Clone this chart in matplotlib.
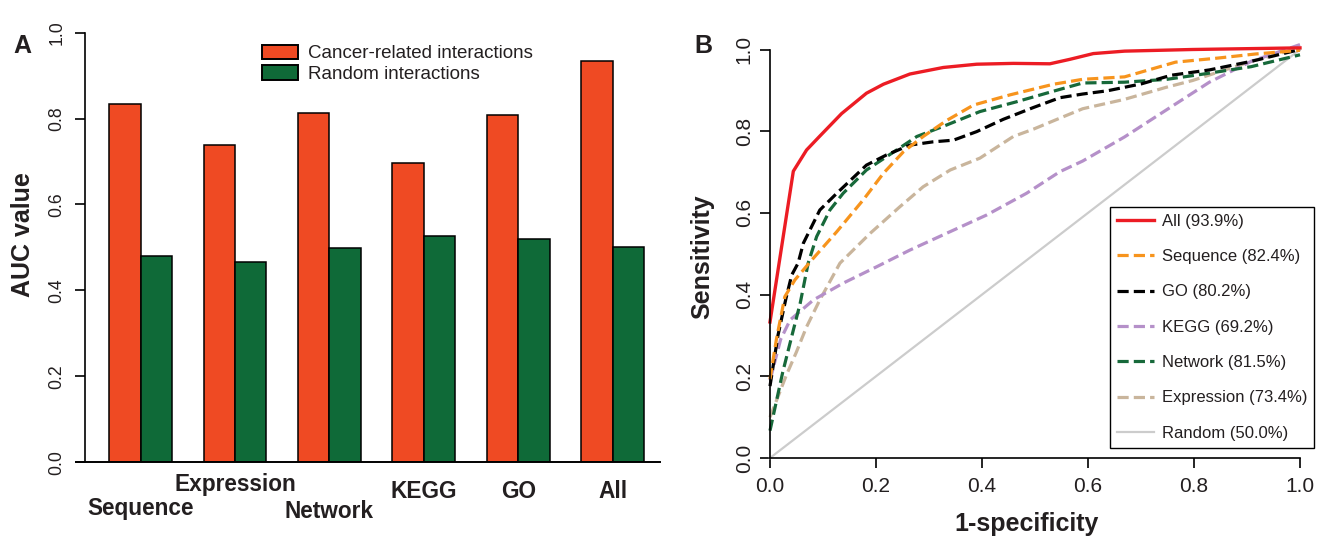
import numpy as np
import matplotlib
matplotlib.use("Agg")
from matplotlib import pyplot as plt
from matplotlib.patches import Patch
from matplotlib.ticker import FormatStrFormatter
from matplotlib.transforms import blended_transform_factory

plt.rcParams['font.family'] = ['Liberation Sans', 'DejaVu Sans']

INK = '#231f20'

# panel A data
categories = ['Sequence', 'Expression', 'Network', 'KEGG', 'GO', 'All']
cancer_auc = [0.833, 0.739, 0.813, 0.697, 0.809, 0.935]
random_auc = [0.480, 0.467, 0.499, 0.526, 0.519, 0.501]
bar_legend = ['Cancer-related interactions', 'Random interactions']

# panel B data (ROC curves)
all_x = [0, 0.044, 0.069, 0.094, 0.135, 0.182, 0.214, 0.264, 0.327, 0.39, 0.459, 0.528,
         0.566, 0.61, 0.669, 0.797, 1.0]
all_y = [0.333, 0.702, 0.754, 0.788, 0.843, 0.893, 0.915, 0.940, 0.956, 0.964, 0.966, 0.965,
         0.976, 0.99, 0.996, 1.0, 1.004]
seq_x = [0, 0.012, 0.028, 0.047, 0.079, 0.126, 0.176, 0.214, 0.252, 0.289, 0.333, 0.384,
         0.453, 0.535, 0.59, 0.669, 0.765, 0.845, 0.916, 1.0]
seq_y = [0.193, 0.29, 0.395, 0.436, 0.485, 0.554, 0.632, 0.697, 0.75, 0.787, 0.826, 0.864,
         0.889, 0.915, 0.927, 0.933, 0.969, 0.979, 0.989, 0.998]
go_x = [0, 0.015, 0.03, 0.041, 0.053, 0.063, 0.094, 0.126, 0.182, 0.22, 0.264, 0.308, 0.346,
        0.39, 0.44, 0.497, 0.547, 0.59, 0.637, 0.701, 0.757, 0.829, 0.908, 1.0]
go_y = [0.176, 0.3, 0.39, 0.448, 0.477, 0.526, 0.607, 0.648, 0.717, 0.742, 0.766, 0.774, 0.778,
        0.799, 0.829, 0.858, 0.882, 0.891, 0.899, 0.916, 0.937, 0.95, 0.971, 1.0]
kegg_x = [0, 0.02, 0.038, 0.082, 0.138, 0.201, 0.264, 0.333, 0.409, 0.484, 0.547, 0.59,
          0.669, 0.749, 0.829, 0.908, 1.0]
kegg_y = [0.19, 0.29, 0.338, 0.387, 0.428, 0.468, 0.509, 0.55, 0.595, 0.648, 0.701, 0.727,
          0.786, 0.853, 0.92, 0.971, 1.012]
net_x = [0, 0.024, 0.044, 0.057, 0.072, 0.088, 0.113, 0.138, 0.182, 0.239, 0.277, 0.333,
         0.396, 0.465, 0.535, 0.59, 0.669, 0.749, 0.813, 0.908, 1.0]
net_y = [0.067, 0.21, 0.313, 0.379, 0.477, 0.542, 0.607, 0.648, 0.705, 0.754, 0.787, 0.815,
         0.848, 0.872, 0.898, 0.918, 0.92, 0.927, 0.939, 0.958, 0.987]
expr_x = [0, 0.03, 0.05, 0.069, 0.094, 0.132, 0.189, 0.245, 0.289, 0.34, 0.396, 0.459, 0.497,
          0.547, 0.59, 0.669, 0.749, 0.797, 0.908, 1.0]
expr_y = [0.10, 0.2, 0.26, 0.321, 0.387, 0.477, 0.55, 0.615, 0.664, 0.705, 0.734, 0.787, 0.805,
          0.832, 0.855, 0.878, 0.908, 0.924, 0.971, 1.004]
rand_x = [0, 1]
rand_y = [0, 1]

W, H = 1326, 538
fig = plt.figure(figsize=(W / 100, H / 100), dpi=100)

# ---------- panel A ----------
axA = fig.add_axes([76 / W, (H - 462.3) / H, 584 / W, 429.7 / H])
pos = np.arange(len(categories)) * 3 + 1
axA.bar(pos, cancer_auc, width=1, align='edge', color='#EF4A23', edgecolor='black', lw=1.1)
axA.bar(pos + 1, random_auc, width=1, align='edge', color='#0F6A38', edgecolor='black', lw=1.1)
axA.set_xlim(-0.05, 18.5)
axA.set_ylim(0, 1)
for s in ['top', 'right']:
    axA.spines[s].set_visible(False)
axA.spines['left'].set_position(('data', 0.24))
axA.spines['left'].set_bounds(0, 1)
axA.spines['left'].set_linewidth(1.2)
axA.spines['bottom'].set_linewidth(1.4)
axA.set_xticks([])
axA.set_yticks(np.arange(0, 1.01, 0.2))
axA.yaxis.set_major_formatter(FormatStrFormatter('%.1f'))
axA.tick_params(axis='y', length=7.2, width=1.2, labelsize=12.7, pad=7, labelrotation=90,
                labelcolor=INK)
for t in axA.get_yticklabels():
    t.set_va('center')
axA.set_ylabel('AUC value', fontsize=18, fontweight='bold', color=INK)
axA.yaxis.set_label_coords(-0.0908, 0.529)
axA.yaxis.label.set_va('center')

# staggered category labels
label_rows = [508, 485, 511, 492, 492, 492]
tr = blended_transform_factory(axA.transData, fig.transFigure)
for c, p, r in zip(categories, pos, label_rows):
    axA.text(p + 1, 1 - r / H, c, transform=tr, ha='center', va='center',
             fontsize=16.3, fontweight='bold', color=INK)

hA = [Patch(facecolor='#EF4A23', edgecolor='black', lw=1.4),
      Patch(facecolor='#0F6A38', edgecolor='black', lw=1.4)]
axA.legend(hA, bar_legend, loc='upper left', bbox_to_anchor=(0.3185, 0.972), borderaxespad=0,
           frameon=False, fontsize=13.5, handlelength=1.9, handleheight=0.8,
           handletextpad=0.55, labelspacing=0.16, borderpad=0, labelcolor=INK)

# ---------- panel B ----------
axB = fig.add_axes([770 / W, (H - 458) / H, 530 / W, 408.5 / H])
dash = (0, (3.5, 1.6))
curves = [
    (rand_x, rand_y, '#CCCCCC', '-', 1.6, 'Random (50.0%)'),
    (expr_x, expr_y, '#C9B59C', dash, 2.3, 'Expression (73.4%)'),
    (kegg_x, kegg_y, '#B590C9', dash, 2.3, 'KEGG (69.2%)'),
    (net_x, net_y, '#17693A', dash, 2.3, 'Network (81.5%)'),
    (go_x, go_y, '#000000', dash, 2.3, 'GO (80.2%)'),
    (seq_x, seq_y, '#F7941D', dash, 2.3, 'Sequence (82.4%)'),
    (all_x, all_y, '#EC1C24', '-', 2.4, 'All (93.9%)'),
]
lines = {}
for x, y, col, ls, lw, lab in curves:
    ln, = axB.plot(x, y, color=col, linestyle=ls, lw=lw, clip_on=False, label=lab)
    lines[lab] = ln
axB.set_xlim(0, 1)
axB.set_ylim(0, 1)
for s in ['top', 'right']:
    axB.spines[s].set_visible(False)
for s in ['left', 'bottom']:
    axB.spines[s].set_linewidth(1.2)
axB.set_xticks(np.arange(0, 1.01, 0.2))
axB.set_yticks(np.arange(0, 1.01, 0.2))
axB.xaxis.set_major_formatter(FormatStrFormatter('%.1f'))
axB.yaxis.set_major_formatter(FormatStrFormatter('%.1f'))
axB.tick_params(axis='both', length=7.2, width=1.2, labelsize=15, labelcolor=INK)
axB.tick_params(axis='x', pad=6.5)
axB.tick_params(axis='y', pad=4.5, labelrotation=90)
for t in axB.get_yticklabels():
    t.set_va('center')
axB.set_xlabel('1-specificity', fontsize=18, fontweight='bold', color=INK)
axB.xaxis.set_label_coords(0.485, -0.1616)
axB.xaxis.label.set_va('center')
axB.set_ylabel('Sensitivity', fontsize=18, fontweight='bold', color=INK)
axB.yaxis.set_label_coords(-0.128, 0.493)
axB.yaxis.label.set_va('center')

order = ['All (93.9%)', 'Sequence (82.4%)', 'GO (80.2%)', 'KEGG (69.2%)', 'Network (81.5%)',
         'Expression (73.4%)', 'Random (50.0%)']
leg = axB.legend([lines[k] for k in order], order, loc='upper left',
                 bbox_to_anchor=(0.6415, 0.615), borderaxespad=0, fontsize=12,
                 handlelength=2.2, handletextpad=0.48, labelspacing=1.22, borderpad=0.42,
                 fancybox=False, framealpha=1, edgecolor='black', labelcolor=INK)
leg.get_frame().set_linewidth(1.0)

fig.text(22 / W, 1 - 46 / H, 'A', fontsize=18, fontweight='bold', ha='center', va='center',
         color=INK)
fig.text(703 / W, 1 - 46 / H, 'B', fontsize=18, fontweight='bold', ha='center', va='center',
         color=INK)

fig.savefig('out.png', dpi=100)
